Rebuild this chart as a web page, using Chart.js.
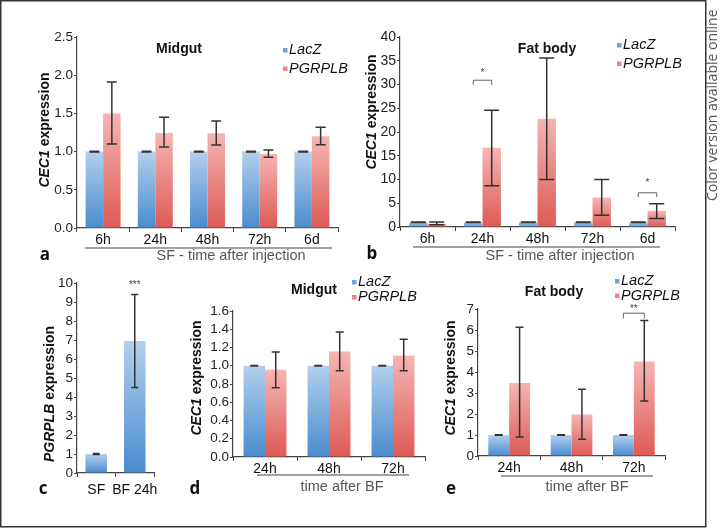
<!DOCTYPE html>
<html>
<head>
<meta charset="utf-8">
<script src="https://cdn.jsdelivr.net/npm/chart.js@4.4.1/dist/chart.umd.min.js"></script>
<style>
  html, body { margin: 0; padding: 0; background: #fff; }
  #fig { position: relative; width: 720px; height: 528px; }
  #fig canvas { position: absolute; left: 0; top: 0; }
</style>
</head>
<body>
<div id="fig">
  <canvas id="chartA" width="720" height="528"></canvas>
  <canvas id="chartB" width="720" height="528"></canvas>
  <canvas id="chartC" width="720" height="528"></canvas>
  <canvas id="chartD" width="720" height="528"></canvas>
  <canvas id="chartE" width="720" height="528"></canvas>
</div>
<script>
// categories
const timesSF = ['6h', '24h', '48h', '72h', '6d'];
const timesBF = ['24h', '48h', '72h'];
const groupsC = ['SF', 'BF 24h'];

// a - midgut, SF
const midgutSFLacZ = [1, 1, 1, 1, 1];
const midgutSFLacZLo = [0.995, 0.995, 0.995, 0.995, 0.995];
const midgutSFLacZHi = [1.005, 1.005, 1.005, 1.005, 1.005];
const midgutSFPgrp = [1.5, 1.245, 1.24, 0.97, 1.2];
const midgutSFPgrpLo = [1.1, 1.06, 1.085, 0.925, 1.09];
const midgutSFPgrpHi = [1.91, 1.45, 1.4, 1.02, 1.32];

// b - fat body, SF
const fatSFLacZ = [1, 1, 1, 1, 1];
const fatSFLacZLo = [0.95, 0.95, 0.95, 0.95, 0.95];
const fatSFLacZHi = [1.05, 1.05, 1.05, 1.05, 1.05];
const fatSFPgrp = [0.7, 16.7, 22.8, 6.2, 3.4];
const fatSFPgrpLo = [0.45, 8.7, 10.0, 2.5, 1.8];
const fatSFPgrpHi = [1.05, 24.6, 35.6, 10.0, 4.9];

// c - PGRPLB expression
const pgrpExpr = [1, 6.95];
const pgrpExprLo = [0.97, 4.5];
const pgrpExprHi = [1.02, 9.4];

// d - midgut, BF
const midgutBFLacZ = [1, 1, 1];
const midgutBFLacZLo = [0.997, 0.997, 0.997];
const midgutBFLacZHi = [1.003, 1.003, 1.003];
const midgutBFPgrp = [0.955, 1.155, 1.11];
const midgutBFPgrpLo = [0.76, 0.945, 0.945];
const midgutBFPgrpHi = [1.15, 1.37, 1.29];

// e - fat body, BF
const fatBFLacZ = [1, 1, 1];
const fatBFLacZLo = [0.99, 0.99, 0.99];
const fatBFLacZHi = [1.01, 1.01, 1.01];
const fatBFPgrp = [3.48, 1.98, 4.5];
const fatBFPgrpLo = [0.9, 0.8, 2.62];
const fatBFPgrpHi = [6.13, 3.18, 6.45];

// y axis ranges / tick steps
const yMaxA = 2.5, yStepA = 0.5;
const yMaxB = 40, yStepB = 5;
const yMaxC = 10, yStepC = 1;
const yMaxD = 1.6, yStepD = 0.2;
const yMaxE = 7, yStepE = 1;

const SANS = '"Liberation Sans", Arial, Helvetica, sans-serif';
const BLUE = ['#b3cfed', '#4a8ccf'];
const RED = ['#f5b5b3', '#de5a55'];
const BLUE_KEY = '#6ea3d9';
const RED_KEY = '#e98584';

function barGradient(colors) {
    return function(ctx) {
        const chart = ctx.chart;
        const area = chart.chartArea;
        if (!area || ctx.type !== 'data' || !chart.scales.y) return colors[1];
        const top = chart.scales.y.getPixelForValue(ctx.raw);
        const g = chart.ctx.createLinearGradient(0, top, 0, area.bottom);
        g.addColorStop(0, colors[0]);
        g.addColorStop(1, colors[1]);
        return g;
    };
}

function textParts(ctx, parts, x, y, rotate) {
    ctx.save();
    ctx.translate(x, y);
    if (rotate) ctx.rotate(-Math.PI / 2);
    let total = 0;
    parts.forEach(p => { ctx.font = p.font; total += ctx.measureText(p.text).width; });
    let cx = -total / 2;
    ctx.textBaseline = 'middle';
    ctx.textAlign = 'left';
    parts.forEach(p => {
        ctx.font = p.font;
        ctx.fillStyle = p.color || '#111';
        ctx.fillText(p.text, cx, 0);
        cx += ctx.measureText(p.text).width;
    });
    ctx.restore();
}

// error bars from each dataset's errLo / errHi arrays
const errorBars = {
    id: 'errorBars',
    afterDatasetsDraw(chart) {
        const ctx = chart.ctx;
        const y = chart.scales.y;
        const cap = chart.options.plugins.decor.cap;
        ctx.save();
        ctx.strokeStyle = '#333';
        ctx.lineWidth = 1.5;
        chart.data.datasets.forEach((ds, i) => {
            chart.getDatasetMeta(i).data.forEach((bar, j) => {
                const y1 = y.getPixelForValue(ds.errLo[j]);
                const y2 = y.getPixelForValue(ds.errHi[j]);
                ctx.beginPath();
                ctx.moveTo(bar.x, y1); ctx.lineTo(bar.x, y2);
                ctx.moveTo(bar.x - cap, y1); ctx.lineTo(bar.x + cap, y1);
                ctx.moveTo(bar.x - cap, y2); ctx.lineTo(bar.x + cap, y2);
                ctx.stroke();
            });
        });
        ctx.restore();
    }
};

// titles, legend, axis titles, panel letters, significance marks
const decor = {
    id: 'decor',
    afterDraw(chart) {
        const d = chart.options.plugins.decor;
        const ctx = chart.ctx;
        const y = chart.scales.y;
        ctx.save();
        if (d.frame) {
            ctx.strokeStyle = '#333';
            ctx.lineWidth = 1.5;
            ctx.strokeRect(0.75, 0.75, 705, 526);
            ctx.save();
            ctx.translate(713, 201);
            ctx.rotate(-Math.PI / 2);
            ctx.font = '14px "Open Sans", sans-serif';
            ctx.fillStyle = '#555';
            ctx.textAlign = 'left';
            ctx.textBaseline = 'middle';
            ctx.fillText('Color version available online', 0, 0);
            ctx.restore();
        }
        if (d.title) {
            ctx.font = 'bold 14px ' + SANS;
            ctx.fillStyle = '#111';
            ctx.textAlign = 'center';
            ctx.textBaseline = 'middle';
            ctx.fillText(d.title[0], d.title[1], d.title[2]);
        }
        if (d.legend) {
            const [lx, ly, gap] = d.legend;
            chart.data.datasets.forEach((ds, i) => {
                const cy = ly + i * gap;
                ctx.fillStyle = ds.keyColor;
                ctx.fillRect(lx, cy - 2, 4.5, 4.5);
                ctx.font = 'italic 14.5px ' + SANS;
                ctx.fillStyle = '#111';
                ctx.textAlign = 'left';
                ctx.textBaseline = 'middle';
                ctx.fillText(ds.label, lx + 6, cy);
            });
        }
        textParts(ctx, [
            { text: d.yName + ' ', font: 'italic bold 14px ' + SANS },
            { text: 'expression', font: 'bold 14px ' + SANS }
        ], d.yTitle[0], d.yTitle[1], true);
        if (d.xTitle) {
            ctx.font = '14.5px ' + SANS;
            ctx.fillStyle = '#555';
            ctx.textAlign = 'center';
            ctx.textBaseline = 'middle';
            ctx.fillText(d.xTitle[0], d.xTitle[1], d.xTitle[2]);
            ctx.strokeStyle = '#444';
            ctx.lineWidth = 1.2;
            ctx.beginPath();
            ctx.moveTo(d.underline[0], d.underline[2]);
            ctx.lineTo(d.underline[1], d.underline[2]);
            ctx.stroke();
        }
        ctx.font = 'bold 17px "Open Sans", sans-serif';
        ctx.fillStyle = '#111';
        ctx.textAlign = 'center';
        ctx.textBaseline = 'middle';
        ctx.fillText(d.letter[0], d.letter[1], d.letter[2]);
        (d.marks || []).forEach(m => {
            const m0 = chart.getDatasetMeta(0).data[m.cat];
            const last = chart.getDatasetMeta(chart.data.datasets.length - 1).data[m.cat];
            const x1 = m0.x, x2 = last.x;
            ctx.strokeStyle = '#666';
            ctx.lineWidth = 1;
            if (m.top !== undefined) {
                const yt = y.getPixelForValue(m.top), yb = y.getPixelForValue(m.leg);
                ctx.beginPath();
                ctx.moveTo(x1, yb); ctx.lineTo(x1, yt); ctx.lineTo(x2, yt); ctx.lineTo(x2, yb);
                ctx.stroke();
            }
            ctx.font = '10px ' + SANS;
            ctx.fillStyle = '#444';
            ctx.textAlign = 'center';
            ctx.textBaseline = 'middle';
            ctx.fillText(m.star, (x1 + x2) / 2, y.getPixelForValue(m.starAt));
        });
        ctx.restore();
    }
};

function panel(id, p) {
    const yW = 40, xH = 24;
    return new Chart(document.getElementById(id), {
        type: 'bar',
        data: { labels: p.labels, datasets: p.datasets },
        options: {
            responsive: false,
            animation: false,
            events: [],
            layout: {
                padding: {
                    left: p.area[0] - yW,
                    top: p.area[2],
                    right: 720 - p.area[1],
                    bottom: 528 - p.area[3] - xH
                }
            },
            datasets: { bar: { categoryPercentage: p.cat, barPercentage: p.bar, borderWidth: 0 } },
            plugins: { legend: { display: false }, tooltip: { enabled: false }, decor: p.decor },
            scales: {
                x: {
                    grid: { display: true, drawOnChartArea: false, tickLength: 4, color: '#444', lineWidth: 1, offset: true },
                    border: { display: true, color: '#444', width: 1.2 },
                    ticks: { color: '#111', padding: p.xPad || 0, autoSkip: false, font: { family: SANS, size: 14 }, maxRotation: 0 },
                    afterFit: s => { s.height = xH; }
                },
                y: {
                    min: 0, max: p.yMax,
                    grid: { display: true, drawOnChartArea: false, tickLength: 3, color: '#444', lineWidth: 1 },
                    border: { display: true, color: '#444', width: 1.2 },
                    ticks: {
                        stepSize: p.yStep, autoSkip: false, padding: 1, color: '#222',
                        font: { family: SANS, size: p.tickSize },
                        callback: v => Number(v).toFixed(p.dec)
                    },
                    afterFit: s => { s.width = yW; }
                }
            }
        },
        plugins: [errorBars, decor]
    });
}

function pair(lacz, lacLo, lacHi, pg, pgLo, pgHi) {
    return [
        { label: 'LacZ', data: lacz, errLo: lacLo, errHi: lacHi, backgroundColor: barGradient(BLUE), keyColor: BLUE_KEY },
        { label: 'PGRPLB', data: pg, errLo: pgLo, errHi: pgHi, backgroundColor: barGradient(RED), keyColor: RED_KEY }
    ];
}

panel('chartA', {
    labels: timesSF,
    datasets: pair(midgutSFLacZ, midgutSFLacZLo, midgutSFLacZHi, midgutSFPgrp, midgutSFPgrpLo, midgutSFPgrpHi),
    area: [77, 338, 37, 228], yMax: yMaxA, yStep: yStepA, dec: 1, tickSize: 13.5, cat: 0.67, bar: 1,
    decor: {
        frame: true, cap: 5,
        title: ['Midgut', 179, 49], legend: [283, 50, 18.5],
        yName: 'CEC1', yTitle: [45, 130],
        xTitle: ['SF - time after injection', 231, 256], underline: [85, 332, 248],
        letter: ['a', 45, 255]
    }
});

panel('chartB', {
    labels: timesSF,
    datasets: pair(fatSFLacZ, fatSFLacZLo, fatSFLacZHi, fatSFPgrp, fatSFPgrpLo, fatSFPgrpHi),
    area: [400, 675, 37, 227], yMax: yMaxB, yStep: yStepB, dec: 0, tickSize: 14, cat: 0.67, bar: 1,
    decor: {
        cap: 7.5,
        title: ['Fat body', 547, 49], legend: [617, 45, 18.5],
        yName: 'CEC1', yTitle: [372, 112],
        xTitle: ['SF - time after injection', 560, 256], underline: [413, 660, 247],
        letter: ['b', 372, 254],
        marks: [
            { cat: 1, top: 30.9, leg: 29.9, star: '*', starAt: 32.3 },
            { cat: 4, top: 7.2, leg: 6.3, star: '*', starAt: 9.3 }
        ]
    }
});

panel('chartC', {
    labels: groupsC,
    datasets: [
        { label: 'PGRPLB', data: pgrpExpr, errLo: pgrpExprLo, errHi: pgrpExprHi, backgroundColor: barGradient(BLUE), keyColor: BLUE_KEY }
    ],
    area: [77, 154, 283, 473], yMax: yMaxC, yStep: yStepC, dec: 0, tickSize: 13.5, cat: 0.56, bar: 1, xPad: 5,
    decor: {
        cap: 3.5,
        yName: 'PGRPLB', yTitle: [50, 394],
        letter: ['c', 43, 489],
        marks: [{ cat: 1, star: '***', starAt: 9.9 }]
    }
});

panel('chartD', {
    labels: timesBF,
    datasets: pair(midgutBFLacZ, midgutBFLacZLo, midgutBFLacZHi, midgutBFPgrp, midgutBFPgrpLo, midgutBFPgrpHi),
    area: [233, 425, 311, 457], yMax: yMaxD, yStep: yStepD, dec: 1, tickSize: 13.5, cat: 0.67, bar: 1,
    decor: {
        cap: 4,
        title: ['Midgut', 314, 290], legend: [352, 282, 15],
        yName: 'CEC1', yTitle: [197, 378],
        xTitle: ['time after BF', 342, 487], underline: [257, 409, 475],
        letter: ['d', 195, 489]
    }
});

panel('chartE', {
    labels: timesBF,
    datasets: pair(fatBFLacZ, fatBFLacZLo, fatBFLacZHi, fatBFPgrp, fatBFPgrpLo, fatBFPgrpHi),
    area: [478, 665, 309, 456], yMax: yMaxE, yStep: yStepE, dec: 0, tickSize: 13.5, cat: 0.67, bar: 1,
    decor: {
        cap: 4,
        title: ['Fat body', 554, 292], legend: [615, 281, 14.5],
        yName: 'CEC1', yTitle: [451, 378],
        xTitle: ['time after BF', 587, 487], underline: [501, 653, 476],
        letter: ['e', 451, 489],
        marks: [{ cat: 2, top: 6.8, leg: 6.55, star: '**', starAt: 6.97 }]
    }
});
</script>
</body>
</html>
